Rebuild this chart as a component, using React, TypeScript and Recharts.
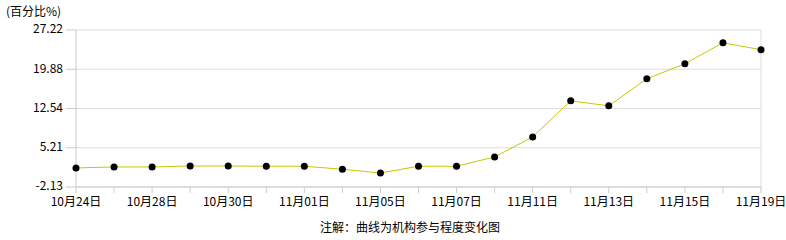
import React from 'react';
import { LineChart, Line, XAxis, YAxis, CartesianGrid, ReferenceLine } from 'recharts';

const categories = ['10月24日', '10月27日', '10月28日', '10月29日', '10月30日', '10月31日', '11月01日', '11月04日', '11月05日', '11月06日', '11月07日', '11月08日', '11月11日', '11月12日', '11月13日', '11月14日', '11月15日', '11月18日', '11月19日'];
const participation = [1.43, 1.62, 1.62, 1.8, 1.8, 1.75, 1.75, 1.19, 0.49, 1.75, 1.75, 3.49, 7.24, 13.98, 13.04, 18.1, 20.91, 24.84, 23.53];
const yTicks = [-2.13, 5.21, 12.54, 19.88, 27.22];

const data = categories.map((c, i) => ({ date: c, value: participation[i] }));

const font = '"Noto Sans CJK SC", "DejaVu Sans", sans-serif';

export default function App() {
  return (
    <div style={{ position: 'absolute', left: 0, top: 0, width: 786, height: 240, background: '#fff', fontFamily: font }}>
      <div style={{ position: 'absolute', left: 6, top: 2, fontSize: 12, color: '#000' }}>(百分比%)</div>
      <LineChart width={786} height={240} data={data} margin={{ top: 30, right: 25, bottom: 33, left: 0 }}>
        <CartesianGrid vertical={false} stroke="#dddddd" />
        <XAxis
          dataKey="date"
          interval={0}
          height={20}
          tickSize={6}
          tickMargin={4}
          stroke="#cccccc"
          tick={{ fill: '#000', fontSize: 12, fontFamily: font }}
          tickFormatter={(v: string, i: number) => (i % 2 === 0 ? v : '')}
          padding={{ left: 0, right: 0 }}
        />
        <YAxis
          domain={[-2.13, 27.22]}
          ticks={yTicks}
          width={76}
          tickSize={10}
          tickMargin={3}
          stroke="#cccccc"
          tick={{ fill: '#000', fontSize: 12, fontFamily: font, dy: -1 }}
          tickFormatter={(v: number) => v.toFixed(2)}
          allowDataOverflow
        />
        <ReferenceLine x={categories[categories.length - 1]} stroke="#dddddd" />
        <Line
          type="linear"
          dataKey="value"
          stroke="#c8c800"
          strokeWidth={1}
          dot={{ r: 3.5, fill: '#000', stroke: '#000', strokeWidth: 0 }}
          activeDot={false}
          isAnimationActive={false}
        />
      </LineChart>
      <div style={{ position: 'absolute', left: 0, width: 786, top: 218, textAlign: 'center', fontSize: 12, color: '#000', paddingLeft: 34, boxSizing: 'border-box' }}>注解：曲线为机构参与程度变化图</div>
    </div>
  );
}
